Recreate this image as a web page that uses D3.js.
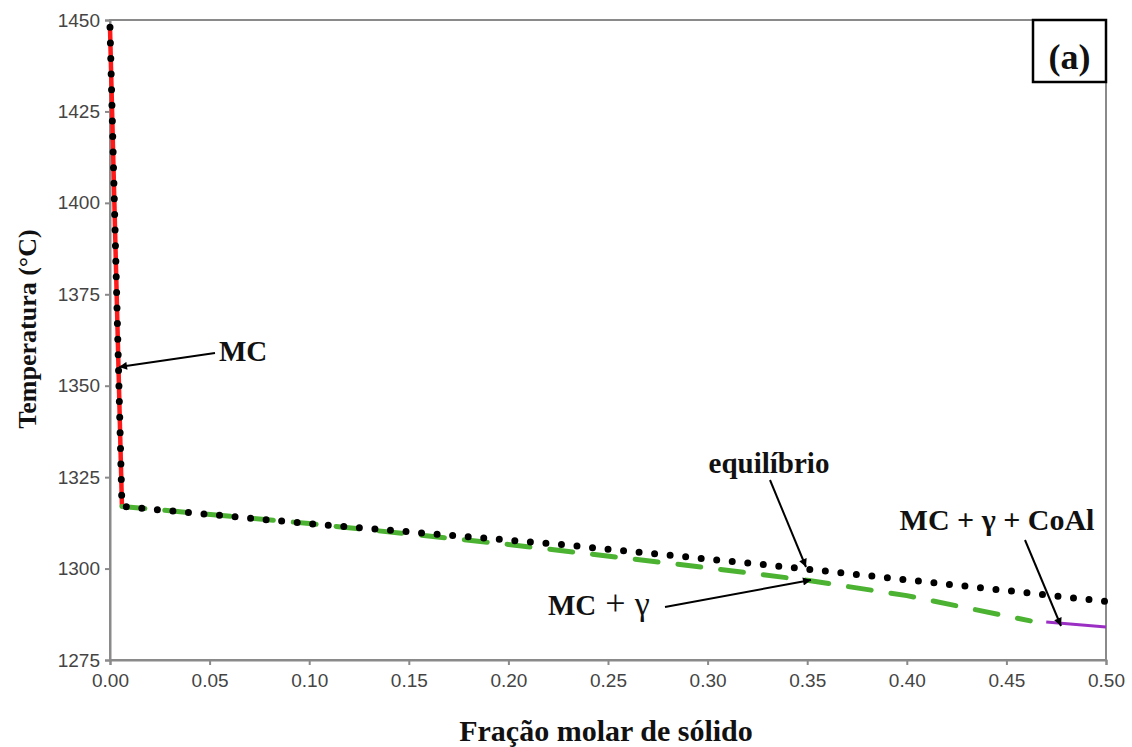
<!DOCTYPE html>
<html><head><meta charset="utf-8">
<script src="https://cdn.jsdelivr.net/npm/d3@7"></script>
<style>body{margin:0;background:#fff}svg{display:block}</style>
</head><body>
<svg id="c" width="1132" height="747"></svg>
<script>
// Data
const xTicks = [0.00,0.05,0.10,0.15,0.20,0.25,0.30,0.35,0.40,0.45,0.50];
const yTicks = [1275,1300,1325,1350,1375,1400,1425,1450];
const mcX = [0.000, 0.006];
const mcT = [1448, 1317];
const eqX = [0.000, 0.006, 0.100, 0.224, 0.330, 0.433, 0.500];
const eqT = [1448, 1317, 1312.3, 1306.7, 1301.0, 1295.0, 1291.0];
const gX = [0.006, 0.100, 0.200, 0.300, 0.350, 0.400, 0.462];
const gT = [1317, 1312.3, 1306.6, 1300.2, 1296.8, 1292.6, 1285.7];
const coX = [0.470, 0.500];
const coT = [1285.4, 1284.0];

const W=1132,H=747, m={l:110,r:26,t:20,b:87};
const svg=d3.select('#c');
const x=d3.scaleLinear().domain([0,0.5]).range([m.l,W-m.r]);
const y=d3.scaleLinear().domain([1275,1450]).range([H-m.b,m.t]);
const zip=(a,b)=>a.map((v,i)=>[v,b[i]]);
const line=d3.line().x(d=>x(d[0])).y(d=>y(d[1]));

// frame
svg.append('rect').attr('x',m.l).attr('y',m.t).attr('width',W-m.l-m.r).attr('height',H-m.t-m.b)
  .attr('fill','none').attr('stroke','#8a8a8a').attr('stroke-width',2);

const ax=svg.append('g').attr('transform',`translate(0,${H-m.b})`)
  .call(d3.axisBottom(x).tickValues(xTicks).tickFormat(d3.format('.2f')).tickSize(5).tickPadding(9));
const ay=svg.append('g').attr('transform',`translate(${m.l},0)`)
  .call(d3.axisLeft(y).tickValues(yTicks).tickFormat(d3.format('d')).tickSize(5).tickPadding(5));
[ax,ay].forEach(g=>{
  g.select('.domain').attr('stroke','#8a8a8a').attr('stroke-width',2);
  g.selectAll('.tick line').attr('stroke','#8a8a8a').attr('stroke-width',2);
  g.selectAll('.tick text').attr('fill','#444').style('font-family','Liberation Sans, Arial, sans-serif').style('font-size','19px');
});

// series
svg.append('path').attr('d',line(zip(mcX,mcT))).attr('fill','none').attr('stroke','#ff1a1a').attr('stroke-width',4.5);
svg.append('path').attr('d',line(zip(gX,gT))).attr('fill','none').attr('stroke','#4cb332').attr('stroke-width',5)
  .attr('stroke-dasharray','23 20').attr('stroke-linecap','round');
svg.append('path').attr('d',line(zip(coX,coT))).attr('fill','none').attr('stroke','#9b2fc4').attr('stroke-width',3);
svg.append('path').attr('d',line(zip(eqX,eqT))).attr('fill','none').attr('stroke','#000').attr('stroke-width',7)
  .attr('stroke-dasharray','0 15.6').attr('stroke-linecap','round');

// arrow marker
svg.append('defs').append('marker').attr('id','ah').attr('viewBox','0 0 10 10').attr('refX',10).attr('refY',5)
  .attr('markerWidth',11).attr('markerHeight',8).attr('markerUnits','userSpaceOnUse').attr('orient','auto')
  .append('path').attr('d','M0,0L10,5L0,10Z').attr('fill','#000');
const arrow=(x1,y1,x2,y2)=>svg.append('line').attr('x1',x1).attr('y1',y1).attr('x2',x2).attr('y2',y2)
  .attr('stroke','#000').attr('stroke-width',2).attr('marker-end','url(#ah)');
const serif='Liberation Serif, Times New Roman, serif';
const txt=(t,xx,yy,fs,anchor='start',w='bold')=>svg.append('text').attr('x',xx).attr('y',yy).text(t)
  .attr('font-family',serif).attr('font-size',fs).attr('font-weight',w).attr('text-anchor',anchor).attr('fill','#111');

txt('MC',219,361,29);
arrow(215,353,119,367);
txt('equilíbrio',769,473,29,'middle');
arrow(770,480,806,567);
const g2=svg.append('text').attr('x',548).attr('y',615).attr('font-family',serif).attr('fill','#111');
g2.append('tspan').text('MC').attr('font-size',29).attr('font-weight','bold');
g2.append('tspan').text(' + ').attr('font-size',36).attr('font-weight','normal');
g2.append('tspan').text('γ').attr('font-size',34).attr('font-weight','normal');
arrow(665,607,811,580);
txt('MC + γ + CoAl',997,530,30,'middle');
arrow(1025,540,1061,626);

// axis titles
txt('Fração molar de sólido',606,741,30,'middle');
svg.append('text').attr('transform','translate(36,329) rotate(-90)').attr('text-anchor','middle')
  .attr('font-family',serif).attr('font-size',26).attr('font-weight','bold').attr('fill','#111').text('Temperatura (°C)');

// (a) box
svg.append('rect').attr('x',1033).attr('y',20).attr('width',73).attr('height',62).attr('fill','#fff').attr('stroke','#000').attr('stroke-width',2.5);
txt('(a)',1069.5,69,36,'middle');
</script>
</body></html>
